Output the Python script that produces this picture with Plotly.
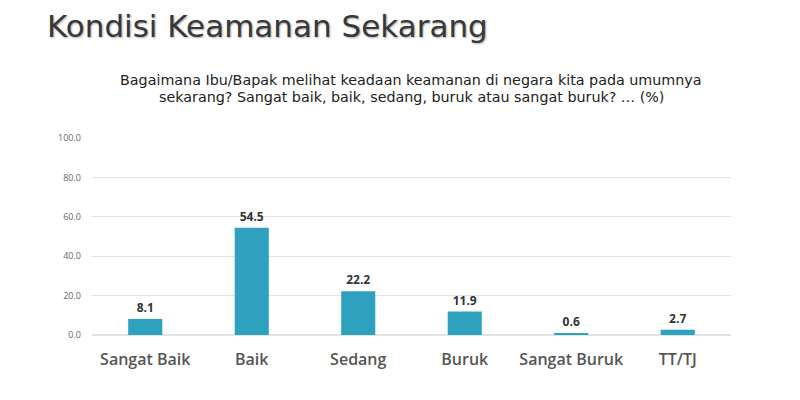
import plotly.graph_objects as go

categories = ['Sangat Baik', 'Baik', 'Sedang', 'Buruk', 'Sangat Buruk', 'TT/TJ']
values = [8.1, 54.5, 22.2, 11.9, 0.6, 2.7]
y_ticks = [0, 20, 40, 60, 80, 100]

title = 'Kondisi Keamanan Sekarang'
question = ['Bagaimana Ibu/Bapak melihat keadaan keamanan di negara kita pada umumnya',
            'sekarang? Sangat baik, baik, sedang, buruk atau sangat buruk? … (%)']

# plot area in figure pixels
L, T, W, H = 84, 130, 639, 197

def px_x(x):
    return (x - L) / W

def px_y(y):
    return 1 + (T - y) / H

fig = go.Figure()
fig.add_trace(go.Bar(
    x=categories, y=values,
    marker=dict(color='#2ea1be', line=dict(width=0)),
    width=0.32,
    text=['%.1f' % v for v in values],
    textposition='outside',
    textfont=dict(family='Open Sans', size=12, color='#333333', weight=700),
    cliponaxis=False,
))

annotations = [
    dict(text=title, xref='paper', yref='paper',
         x=px_x(37), y=px_y(18), xanchor='left', yanchor='middle', showarrow=False,
         font=dict(family='DejaVu Sans', size=31, color='#383838',
                   shadow='1px 1px 2px #aaaaaa')),
]
for i, line in enumerate(question):
    annotations.append(dict(
        text=line, xref='paper', yref='paper',
        x=px_x(403), y=px_y(72 + 17 * i), xanchor='center', yanchor='middle',
        showarrow=False,
        font=dict(family='DejaVu Sans', size=14.3, color='#222222')))

fig.update_layout(
    width=800, height=400,
    margin=dict(l=L, r=800 - L - W, t=T, b=400 - T - H),
    paper_bgcolor='white', plot_bgcolor='white',
    showlegend=False,
    xaxis=dict(
        showgrid=False, showline=False, zeroline=False,
        tickfont=dict(family='Open Sans', size=16, color='#555555', weight=600),
        ticks='', ticklabelstandoff=13,
    ),
    yaxis=dict(
        range=[0, 100], tickvals=y_ticks,
        ticktext=['%.1f' % t for t in y_ticks],
        showgrid=True, gridcolor='#e3e3e3', gridwidth=1,
        zeroline=True, zerolinecolor='#e3e3e3',
        tickfont=dict(family='Open Sans', size=9, color='#666666'),
        ticklabelstandoff=10,
    ),
    annotations=annotations,
)

fig.write_html('out.html')
